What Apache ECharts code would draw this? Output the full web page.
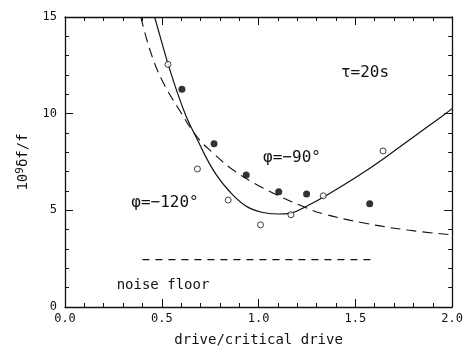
<!DOCTYPE html>
<html>
<head>
<meta charset="utf-8">
<script src="https://cdn.jsdelivr.net/npm/echarts@6/dist/echarts.min.js"></script>
<style>
  html, body { margin: 0; padding: 0; background: #fff; }
  #chart { width: 466px; height: 352px; }
</style>
</head>
<body>
<div id="chart"></div>
<script>
// measured points (drive/critical drive, 10^9 df/f)
var openX = [0.532, 0.684, 0.843, 1.010, 1.167, 1.334, 1.643];
var openY = [12.55, 7.14, 5.53, 4.25, 4.77, 5.75, 8.07];
var filledX = [0.604, 0.770, 0.936, 1.104, 1.248, 1.574];
var filledY = [11.26, 8.45, 6.83, 5.96, 5.84, 5.34];

// phi = -120 deg (solid)
var solidX = [0.463, 0.496, 0.533, 0.58, 0.631, 0.681, 0.731, 0.781, 0.848, 0.932, 1.016, 1.099, 1.167, 1.25, 1.367, 1.551, 1.72, 1.953, 2.0];
var solidY = [15, 13.83, 12.55, 11.1, 9.74, 8.72, 7.70, 6.85, 6.0, 5.24, 4.90, 4.81, 4.86, 5.22, 5.87, 7.02, 8.21, 9.91, 10.26];

// phi = -90 deg (dashed)
var dashX = [0.392, 0.438, 0.50, 0.597, 0.681, 0.765, 0.865, 0.982, 1.099, 1.234, 1.334, 1.551, 1.77, 2.0];
var dashY = [15, 13.32, 11.75, 10.09, 8.81, 7.96, 7.11, 6.38, 5.78, 5.18, 4.82, 4.33, 3.98, 3.73];

// noise floor
var noiseX = [0.40, 1.58];
var noiseY = [2.45, 2.45];

var xTicks = [0.0, 0.5, 1.0, 1.5, 2.0];
var yTicks = [0, 5, 10, 15];

function pairs (xs, ys) {
  return xs.map(function (x, i) { return [x, ys[i]]; });
}

var mono = 'DejaVu Sans Mono';
var ink = '#111';

var chart = echarts.init(document.getElementById('chart'));

var axisCommon = {
  type: 'value',
  axisLine: { show: true, onZero: false, lineStyle: { color: ink, width: 1.3 } },
  axisTick: { show: true, inside: true, length: 8, lineStyle: { color: ink, width: 1 } },
  minorTick: { show: true, splitNumber: 5, length: 4, lineStyle: { color: ink, width: 1 } },
  splitLine: { show: false }
};

chart.setOption({
  animation: false,
  grid: { left: 65, right: 4, top: 17, bottom: 41 },
  xAxis: [
    Object.assign({}, axisCommon, {
      position: 'bottom',
      min: xTicks[0],
      max: xTicks[xTicks.length - 1],
      interval: 0.5,
      name: 'drive/critical drive',
      nameLocation: 'middle',
      nameGap: 26,
      nameTextStyle: { fontFamily: mono, fontSize: 14, color: ink },
      axisLabel: {
        margin: 6,
        fontFamily: mono,
        fontSize: 12,
        color: ink,
        formatter: function (v) { return v.toFixed(1); }
      }
    }),
    Object.assign({}, axisCommon, {
      position: 'top',
      min: xTicks[0],
      max: xTicks[xTicks.length - 1],
      interval: 0.5,
      axisLabel: { show: false }
    })
  ],
  yAxis: [
    Object.assign({}, axisCommon, {
      position: 'left',
      min: yTicks[0],
      max: yTicks[yTicks.length - 1],
      interval: 5,
      name: '10{s|9}δf/f',
      nameLocation: 'middle',
      nameGap: 33,
      nameTextStyle: {
        fontFamily: mono,
        fontSize: 14,
        color: ink,
        rich: { s: { fontFamily: mono, fontSize: 11, color: ink, verticalAlign: 'top', padding: [0, 0, 6, 0] } }
      },
      axisLabel: { margin: 8, fontFamily: mono, fontSize: 12, color: ink }
    }),
    Object.assign({}, axisCommon, {
      position: 'right',
      min: yTicks[0],
      max: yTicks[yTicks.length - 1],
      interval: 5,
      axisLabel: { show: false }
    })
  ],
  series: [
    {
      name: 'φ=−120°',
      type: 'line',
      data: pairs(solidX, solidY),
      showSymbol: false,
      smooth: 0.4,
      lineStyle: { color: ink, width: 1.2 },
      z: 2
    },
    {
      name: 'φ=−90°',
      type: 'line',
      data: pairs(dashX, dashY),
      showSymbol: false,
      smooth: 0.4,
      lineStyle: { color: ink, width: 1.1, type: [10, 6] },
      z: 2
    },
    {
      name: 'noise floor',
      type: 'line',
      data: pairs(noiseX, noiseY),
      showSymbol: false,
      lineStyle: { color: ink, width: 1.1, type: [7, 6] },
      z: 2
    },
    {
      name: 'open',
      type: 'scatter',
      data: pairs(openX, openY),
      symbol: 'circle',
      symbolSize: 6,
      itemStyle: { color: '#fff', borderColor: ink, borderWidth: 1 },
      z: 5
    },
    {
      name: 'filled',
      type: 'scatter',
      data: pairs(filledX, filledY),
      symbol: 'circle',
      symbolSize: 7,
      itemStyle: { color: '#000' },
      z: 5
    }
  ],
  graphic: [
    { type: 'text', x: 365, y: 73, style: { text: 'τ=20s', fontFamily: mono, fontSize: 16, fill: ink, align: 'center', verticalAlign: 'middle' } },
    { type: 'text', x: 292, y: 158, style: { text: 'φ=−90°', fontFamily: mono, fontSize: 16, fill: ink, align: 'center', verticalAlign: 'middle' } },
    { type: 'text', x: 165, y: 203, style: { text: 'φ=−120°', fontFamily: mono, fontSize: 16, fill: ink, align: 'center', verticalAlign: 'middle' } },
    { type: 'text', x: 163, y: 285, style: { text: 'noise floor', fontFamily: mono, fontSize: 14, fill: ink, align: 'center', verticalAlign: 'middle' } }
  ]
});
</script>
</body>
</html>
